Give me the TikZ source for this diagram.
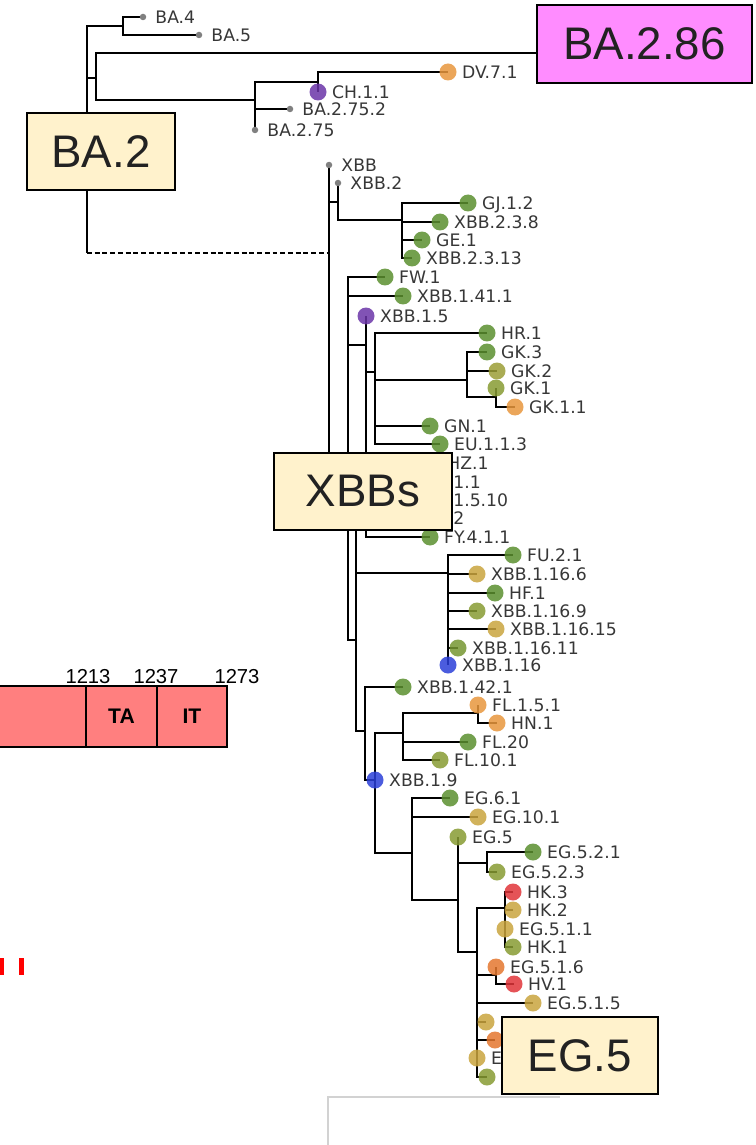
\documentclass[tikz,border=0pt]{standalone}
\usepackage{fontspec}
\newfontfamily\treefont{DejaVu Sans}
\newfontfamily\boxfont{Liberation Sans}
\usetikzlibrary{backgrounds}

\definecolor{cgreen}{RGB}{91,143,47}
\definecolor{colive}{RGB}{135,155,50}
\definecolor{cgold}{RGB}{201,164,62}
\definecolor{corange}{RGB}{232,151,61}
\definecolor{cdorange}{RGB}{228,119,47}
\definecolor{cred}{RGB}{224,53,58}
\definecolor{cpurple}{RGB}{107,53,168}
\definecolor{cblue}{RGB}{43,63,216}
\definecolor{labelgray}{RGB}{55,55,55}
\definecolor{cream}{RGB}{255,242,204}
\definecolor{pinkbox}{RGB}{255,140,255}
\definecolor{salmon}{RGB}{255,127,127}
\definecolor{tagtext}{RGB}{34,34,34}

\begin{document}
\begin{tikzpicture}[x=0.02cm, y=-0.02cm,
  branch/.style={line width=1.55pt, black},
  leaf/.style={circle, fill=#1, fill opacity=0.85, inner sep=0pt, minimum size=0.34cm},
  tip/.style={circle, fill=gray, inner sep=0pt, minimum size=0.13cm},
  lbl/.style={font=\treefont\fontsize{9.8}{11}\selectfont, text=labelgray, text opacity=1, inner sep=0pt, text depth=0pt, xshift=0.1cm},
  tlbl/.style={lbl, xshift=0.07cm},
  tag/.style={draw=black, line width=1.1pt, font=\boxfont\fontsize{26}{30}\selectfont, text=tagtext, inner sep=0pt},
  seg/.style={draw=black, line width=0.9pt, fill=salmon, minimum height=1.22cm, inner sep=0pt, font=\boxfont\bfseries\fontsize{12}{14}\selectfont},
  num/.style={font=\boxfont\fontsize{11.5}{13}\selectfont, inner sep=0pt, anchor=base}]
\useasboundingbox (0,0) rectangle (756,1145);

% BA.2 part of the tree
\coordinate (ba2) at (87,150);
\coordinate (ba2end) at (87,253);
\coordinate (ba45) at (123,26);
\node[tip, label={[tlbl]right:BA.4}] (ba4) at (143,17) {};
\node[tip, label={[tlbl]right:BA.5}] (ba5) at (199,35) {};
\coordinate (nA) at (96,78);
\coordinate (to286) at (537,53);
\coordinate (n275) at (255,100);
\coordinate (nch) at (318,82);
\node[leaf=corange, label={[lbl]right:DV.7.1}] (dv71) at (448,72) {};
\node[leaf=cpurple, label={[lbl]right:CH.1.1}] (ch11) at (318,92) {};
\node[tip, label={[tlbl]right:BA.2.75.2}] (ba2752) at (290,109) {};
\node[tip, label={[tlbl]right:BA.2.75}] (ba275) at (255,130) {};

% XBB root and XBB.2
\coordinate (xbbroot) at (329,253);
\node[tip, label={[tlbl]right:XBB}] (xbb) at (329,165) {};
\coordinate (nxbb2) at (338,202);
\node[tip, label={[tlbl]right:XBB.2}] (xbb2) at (338,183) {};
\coordinate (n23) at (402,220);
\node[leaf=cgreen, label={[lbl]right:GJ.1.2}] (gj12) at (468,203) {};
\node[leaf=cgreen, label={[lbl]right:XBB.2.3.8}] (x238) at (440,222) {};
\node[leaf=cgreen, label={[lbl]right:GE.1}] (ge1) at (422,240) {};
\node[leaf=cgreen, label={[lbl]right:XBB.2.3.13}] (x2313) at (412,258) {};

% XBB.1 and XBB.1.5
\coordinate (xbb1) at (348,490);
\node[leaf=cgreen, label={[lbl]right:FW.1}] (fw1) at (385,277) {};
\node[leaf=cgreen, label={[lbl]right:XBB.1.41.1}] (x1411) at (403,296) {};
\coordinate (n15) at (366,345);
\node[leaf=cpurple, label={[lbl]right:XBB.1.5}] (xbb15) at (366,316) {};
\coordinate (n375) at (375,372);
\node[leaf=cgreen, label={[lbl]right:HR.1}] (hr1) at (487,333) {};
\coordinate (ngk) at (467,380);
\node[leaf=cgreen, label={[lbl]right:GK.3}] (gk3) at (487,352) {};
\node[leaf=colive!70!cgold, label={[lbl]right:GK.2}] (gk2) at (497,371) {};
\coordinate (ngk1) at (496,397);
\node[leaf=colive, label={[lbl]right:GK.1}] (gk1) at (496,388) {};
\node[leaf=corange, label={[lbl]right:GK.1.1}] (gk11) at (515,407) {};
\node[leaf=cgreen, label={[lbl]right:GN.1}] (gn1) at (430,426) {};
\node[leaf=cgreen, label={[lbl]right:EU.1.1.3}] (eu113) at (440,444) {};
\node[lbl, anchor=west] (hz1) at (442,463) {HZ.1};
\node[lbl, anchor=west] (h11) at (448,482) {1.1};
\node[lbl, anchor=west] (h1510) at (448,500) {1.5.10};
\node[lbl, anchor=west] (h2) at (448,518) {2};
\node[leaf=cgreen, label={[lbl]right:FY.4.1.1}] (fy411) at (430,537) {};

% XBB.1.16
\coordinate (n356) at (356,640);
\coordinate (n356top) at (356,530);
\coordinate (n16) at (448,573);
\node[leaf=cgreen, label={[lbl]right:FU.2.1}] (fu21) at (513,555) {};
\node[leaf=cgold, label={[lbl]right:XBB.1.16.6}] (x1166) at (477,574) {};
\node[leaf=cgreen, label={[lbl]right:HF.1}] (hf1) at (495,593) {};
\node[leaf=colive, label={[lbl]right:XBB.1.16.9}] (x1169) at (477,611) {};
\node[leaf=cgold, label={[lbl]right:XBB.1.16.15}] (x11615) at (496,629) {};
\node[leaf=colive!60!cgreen, label={[lbl]right:XBB.1.16.11}] (x11611) at (458,648) {};
\node[leaf=cblue, label={[lbl]right:XBB.1.16}] (xbb116) at (448,665) {};

% XBB.1.9, FL and EG
\coordinate (n19) at (365,731);
\node[leaf=cgreen, label={[lbl]right:XBB.1.42.1}] (x1421) at (403,687) {};
\node[leaf=cblue, label={[lbl]right:XBB.1.9}] (xbb19) at (375,780) {};
\coordinate (nfl) at (403,733);
\coordinate (nfl151) at (478,713);
\node[leaf=corange, label={[lbl]right:FL.1.5.1}] (fl151) at (478,705) {};
\node[leaf=corange, label={[lbl]right:HN.1}] (hn1) at (497,723) {};
\node[leaf=cgreen, label={[lbl]right:FL.20}] (fl20) at (468,742) {};
\node[leaf=colive, label={[lbl]right:FL.10.1}] (fl101) at (440,760) {};
\coordinate (neg) at (412,853);
\node[leaf=cgreen, label={[lbl]right:EG.6.1}] (eg61) at (450,798) {};
\node[leaf=cgold, label={[lbl]right:EG.10.1}] (eg101) at (478,817) {};
\coordinate (neg5) at (458,900);
\node[leaf=colive, label={[lbl]right:EG.5}] (eg5) at (458,837) {};
\coordinate (neg52) at (487,863);
\node[leaf=cgreen, label={[lbl]right:EG.5.2.1}] (eg521) at (533,852) {};
\node[leaf=colive, label={[lbl]right:EG.5.2.3}] (eg523) at (497,872) {};
\coordinate (neg51) at (477,952);
\coordinate (nhk) at (505,908);
\node[leaf=cred, label={[lbl]right:HK.3}] (hk3) at (513,892) {};
\node[leaf=cgold, label={[lbl]right:HK.2}] (hk2) at (513,910) {};
\node[leaf=cgold, label={[lbl]right:EG.5.1.1}] (eg511) at (505,929) {};
\node[leaf=colive, label={[lbl]right:HK.1}] (hk1) at (513,947) {};
\coordinate (neg516) at (496,975);
\node[leaf=cdorange, label={[lbl]right:EG.5.1.6}] (eg516) at (496,967) {};
\node[leaf=cred, label={[lbl]right:HV.1}] (hv1) at (514,984) {};
\node[leaf=cgold, label={[lbl]right:EG.5.1.5}] (eg515) at (533,1003) {};
\node[leaf=cgold] (eg5a) at (486,1022) {};
\node[leaf=cdorange] (eg5b) at (495,1040) {};
\node[leaf=cgold, label={[lbl]right:E}] (eg5c) at (477,1058) {};
\node[leaf=colive] (eg5d) at (487,1077) {};

% branches
\begin{scope}[on background layer]
\begin{scope}[branch]
\draw (ba2) -- (ba2end);
\draw[dash pattern=on 2.8pt off 1.6pt] (ba2end) -- (xbbroot);
\draw (ba2) |- (ba45);
\draw (ba45) |- (ba4.center);
\draw (ba45) |- (ba5.center);
\draw (ba2) |- (nA);
\draw (nA) |- (to286);
\draw (nA) |- (n275);
\draw (n275) |- (nch);
\draw (n275) |- (ba2752.center);
\draw (n275) -- (ba275.center);
\draw (nch) |- (dv71.center);
\draw (nch) -- (ch11.center);
\draw (xbbroot) -- (xbb.center);
\draw (xbbroot) |- (nxbb2);
\draw (xbbroot) |- (xbb1);
\draw (nxbb2) -- (xbb2.center);
\draw (nxbb2) |- (n23);
\draw (n23) |- (gj12.center);
\draw (n23) |- (x238.center);
\draw (n23) |- (ge1.center);
\draw (n23) |- (x2313.center);
\draw (xbb1) |- (fw1.center);
\draw (xbb1) |- (x1411.center);
\draw (xbb1) |- (n15);
\draw (xbb1) |- (n356);
\draw (n15) -- (xbb15.center);
\draw (n15) |- (n375);
\draw (n15) |- (fy411.center);
\draw (n375) |- (hr1.center);
\draw (n375) |- (ngk);
\draw (n375) |- (gn1.center);
\draw (n375) |- (eu113.center);
\draw (ngk) |- (gk3.center);
\draw (ngk) |- (gk2.center);
\draw (ngk) |- (ngk1);
\draw (ngk1) -- (gk1.center);
\draw (ngk1) |- (gk11.center);
\draw (n356) -- (n356top);
\draw (n356) |- (n16);
\draw (n356) |- (n19);
\draw (n16) |- (fu21.center);
\draw (n16) |- (x1166.center);
\draw (n16) |- (hf1.center);
\draw (n16) |- (x1169.center);
\draw (n16) |- (x11615.center);
\draw (n16) |- (x11611.center);
\draw (n16) -- (xbb116.center);
\draw (n19) |- (x1421.center);
\draw (n19) |- (xbb19.center);
\draw (xbb19.center) |- (nfl);
\draw (xbb19.center) |- (neg);
\draw (nfl) |- (nfl151);
\draw (nfl) |- (fl20.center);
\draw (nfl) |- (fl101.center);
\draw (nfl151) -- (fl151.center);
\draw (nfl151) |- (hn1.center);
\draw (neg) |- (eg61.center);
\draw (neg) |- (eg101.center);
\draw (neg) |- (neg5);
\draw (neg5) -- (eg5.center);
\draw (neg5) |- (neg52);
\draw (neg5) |- (neg51);
\draw (neg52) |- (eg521.center);
\draw (neg52) |- (eg523.center);
\draw (neg51) |- (nhk);
\draw (neg51) |- (neg516);
\draw (neg51) |- (eg515.center);
\draw (neg51) |- (eg5a.center);
\draw (neg51) |- (eg5b.center);
\draw (neg51) |- (eg5c.center);
\draw (neg51) |- (eg5d.center);
\draw (nhk) |- (hk3.center);
\draw (nhk) |- (hk2.center);
\draw (nhk) -- (eg511.center);
\draw (nhk) |- (hk1.center);
\draw (neg516) -- (eg516.center);
\draw (neg516) |- (hv1.center);
\end{scope}
\end{scope}

% frame of the next panel
\draw[gray!35, line width=0.7pt] (328,1145) |- (560,1097);

% clade tags
\node[tag, fill=cream, minimum width=2.96cm, minimum height=1.54cm] (tagba2) at (101,151.5) {BA.2};
\node[tag, fill=pinkbox, minimum width=4.3cm, minimum height=1.56cm] (tag286) at (644.5,44) {BA.2.86};
\node[tag, fill=cream, minimum width=3.56cm, minimum height=1.54cm] (tagxbb) at (363,491.5) {XBBs};
\node[tag, fill=cream, minimum width=3.12cm, minimum height=1.54cm] (tageg5) at (580,1055.5) {EG.5};

% spike domain fragment
\node[seg, minimum width=1.92cm] (segl) at (38,716.5) {};
\node[seg, minimum width=1.42cm] (segta) at (121.5,716.5) {TA};
\node[seg, minimum width=1.4cm] (segit) at (192,716.5) {IT};
\node[num] (p1213) at (88,683) {1213};
\node[num] (p1237) at (156,683) {1237};
\node[num] (p1273) at (237,683) {1273};
\fill[red] (0,958) rectangle (4,975);
\fill[red] (19,958) rectangle (24,975);
\end{tikzpicture}
\end{document}
